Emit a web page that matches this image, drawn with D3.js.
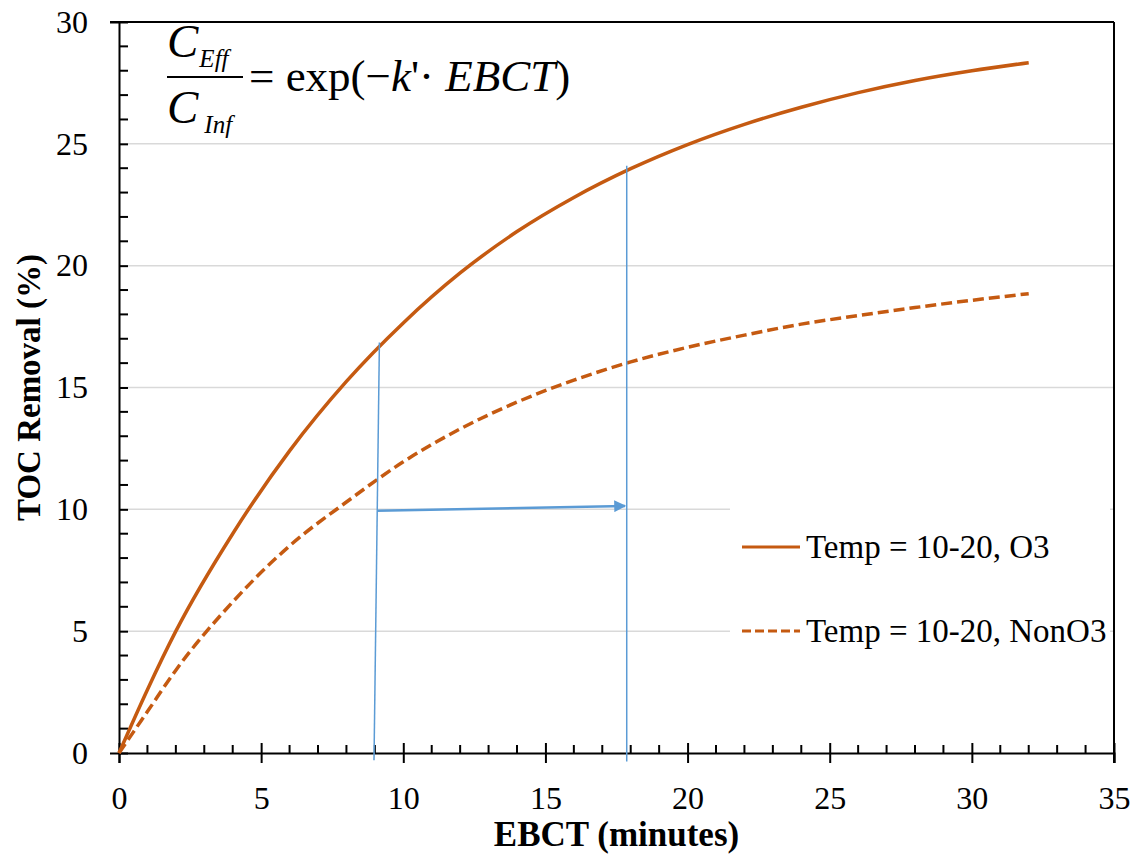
<!DOCTYPE html>
<html>
<head>
<meta charset="utf-8">
<script src="https://cdn.jsdelivr.net/npm/d3@7"></script>
<style>
  body { margin: 0; background: #fff; }
</style>
</head>
<body>
<div id="chart"></div>
<script>
// EBCT (minutes) vs TOC removal (%)
var ebct = [0, 1, 2, 4, 6, 8, 10, 12, 14, 16, 18, 20, 22, 24, 26, 28, 30, 32];
var removalO3 = [0, 2.6, 5.0, 9.0, 12.4, 15.25, 17.65, 19.7, 21.4, 22.8, 23.98, 24.97, 25.8, 26.5, 27.1, 27.6, 28.0, 28.33];
var removalNonO3 = [0, 1.7, 3.4, 6.2, 8.5, 10.3, 11.95, 13.3, 14.4, 15.3, 16.05, 16.65, 17.15, 17.6, 17.95, 18.28, 18.58, 18.85];

var seriesNames = ["Temp = 10-20, O3", "Temp = 10-20, NonO3"];
var xTicks = [0, 5, 10, 15, 20, 25, 30, 35];
var yTicks = [0, 5, 10, 15, 20, 25, 30];

// blue guide lines (EBCT, removal)
var guide1 = [[8.97, -0.3], [9.16, 16.85]];
var guide2 = [[17.86, -0.35], [17.86, 24.1]];
var shiftArrow = [[9.08, 9.94], [17.8, 10.14]];

var W = 1136, H = 859;
var pLeft = 119, pRight = 1114, pTop = 22, pBottom = 753;
var orange = "#C55A11", blue = "#5B9BD5";
var serif = "'Liberation Serif', 'Times New Roman', Times, 'DejaVu Serif', serif";

var svg = d3.select("#chart").append("svg")
    .attr("width", W)
    .attr("height", H)
    .style("font-family", serif);

var x = d3.scaleLinear().domain([0, 35]).range([pLeft, pRight]);
var y = d3.scaleLinear().domain([0, 30]).range([pBottom, pTop]);

// gridlines
svg.append("g")
  .selectAll("line")
  .data(yTicks.filter(function(d) { return d > 0 && d < 30; }))
  .enter().append("line")
    .attr("x1", pLeft).attr("x2", pRight)
    .attr("y1", function(d) { return y(d); })
    .attr("y2", function(d) { return y(d); })
    .attr("stroke", "#D9D9D9")
    .attr("stroke-width", 1.5);

// frame (top and right)
svg.append("line").attr("x1", pLeft - 9).attr("x2", pRight).attr("y1", pTop).attr("y2", pTop)
    .attr("stroke", "#000").attr("stroke-width", 2);
svg.append("line").attr("x1", pRight).attr("x2", pRight).attr("y1", pTop).attr("y2", pBottom + 10)
    .attr("stroke", "#000").attr("stroke-width", 2);

// axes
var xAxis = svg.append("g")
    .attr("transform", "translate(0," + pBottom + ")")
    .call(d3.axisBottom(x).tickValues(xTicks).tickSize(10).tickPadding(23).tickFormat(d3.format("d")));
var yAxis = svg.append("g")
    .attr("transform", "translate(" + pLeft + ",0)")
    .call(d3.axisLeft(y).tickValues(yTicks).tickSize(9).tickPadding(22).tickFormat(d3.format("d")));

[xAxis, yAxis].forEach(function(g) {
  g.attr("font-family", null).attr("font-size", null);
  g.select(".domain").attr("stroke", "#000").attr("stroke-width", 2);
  g.selectAll(".tick line").attr("stroke", "#000").attr("stroke-width", 2);
  g.selectAll(".tick text").attr("fill", "#000")
    .style("font-family", serif).style("font-size", "32px");
});
// major ticks cross into the plot
xAxis.selectAll(".tick line").attr("y1", -10);
yAxis.selectAll(".tick line").attr("x2", 9);

// minor ticks (inside)
svg.append("g").selectAll("line")
  .data(d3.range(1, 35).filter(function(d) { return d % 5 !== 0; }))
  .enter().append("line")
    .attr("x1", function(d) { return x(d); }).attr("x2", function(d) { return x(d); })
    .attr("y1", pBottom).attr("y2", pBottom - 8)
    .attr("stroke", "#000").attr("stroke-width", 2);
svg.append("g").selectAll("line")
  .data(d3.range(1, 30).filter(function(d) { return d % 5 !== 0; }))
  .enter().append("line")
    .attr("y1", function(d) { return y(d); }).attr("y2", function(d) { return y(d); })
    .attr("x1", pLeft).attr("x2", pLeft + 9)
    .attr("stroke", "#000").attr("stroke-width", 2);

// axis titles
svg.append("text")
    .attr("x", (pLeft + pRight) / 2).attr("y", 846)
    .attr("text-anchor", "middle")
    .style("font-size", "35px").attr("font-weight", "bold")
    .text("EBCT (minutes)");
svg.append("text")
    .attr("transform", "translate(40," + ((pTop + pBottom) / 2) + ") rotate(-90)")
    .attr("text-anchor", "middle")
    .style("font-size", "33px").attr("font-weight", "bold")
    .text("TOC Removal (%)");

// curves
var line = d3.line()
    .x(function(d) { return x(d[0]); })
    .y(function(d) { return y(d[1]); })
    .curve(d3.curveMonotoneX);

svg.append("path")
    .datum(d3.zip(ebct, removalO3))
    .attr("d", line)
    .attr("fill", "none")
    .attr("stroke", orange)
    .attr("stroke-width", 3.5);

svg.append("path")
    .datum(d3.zip(ebct, removalNonO3))
    .attr("d", line)
    .attr("fill", "none")
    .attr("stroke", orange)
    .attr("stroke-width", 3.5)
    .attr("stroke-dasharray", "11,5");

// guide lines + arrow
svg.append("defs").append("marker")
    .attr("id", "arrow")
    .attr("viewBox", "0 0 10 10")
    .attr("refX", 9).attr("refY", 5)
    .attr("markerWidth", 12).attr("markerHeight", 12)
    .attr("markerUnits", "userSpaceOnUse")
    .attr("orient", "auto")
  .append("path")
    .attr("d", "M0,0 L10,5 L0,10 Z")
    .attr("fill", blue);

var straight = d3.line()
    .x(function(d) { return x(d[0]); })
    .y(function(d) { return y(d[1]); });

[guide1, guide2].forEach(function(g) {
  svg.append("path").attr("d", straight(g))
    .attr("fill", "none").attr("stroke", blue).attr("stroke-width", 1.5);
});
svg.append("path").attr("d", straight(shiftArrow))
    .attr("fill", "none").attr("stroke", blue).attr("stroke-width", 2.5)
    .attr("marker-end", "url(#arrow)");

// legend
var legend = svg.append("g");
legend.append("rect")
    .attr("x", 730).attr("y", 478).attr("width", 380).attr("height", 184)
    .attr("fill", "#fff");
var legendY = [547, 631];
seriesNames.forEach(function(name, i) {
  legend.append("line")
    .attr("x1", 742).attr("x2", 800)
    .attr("y1", legendY[i]).attr("y2", legendY[i])
    .attr("stroke", orange).attr("stroke-width", 3)
    .attr("stroke-dasharray", i === 1 ? "9,4" : null);
  legend.append("text")
    .attr("x", 806).attr("y", legendY[i] + 11)
    .style("font-size", "33px")
    .text(name);
});

// formula
var f = svg.append("g").style("font-size", "45px");
f.append("text").attr("x", 167).attr("y", 57)
  .html('<tspan font-style="italic" font-size="47">C</tspan><tspan font-style="italic" font-size="25" dx="1" dy="10">Eff</tspan>');
f.append("line").attr("x1", 167).attr("x2", 243).attr("y1", 77).attr("y2", 77)
  .attr("stroke", "#000").attr("stroke-width", 2);
f.append("text").attr("x", 167).attr("y", 123)
  .html('<tspan font-style="italic" font-size="47">C</tspan><tspan font-style="italic" font-size="25" dx="6" dy="10">Inf</tspan>');
f.append("text").attr("x", 249).attr("y", 91)
  .html('= exp(\u2212<tspan font-style="italic">k</tspan>\'\u00B7 <tspan font-style="italic">EBCT</tspan>)');
</script>
</body>
</html>
